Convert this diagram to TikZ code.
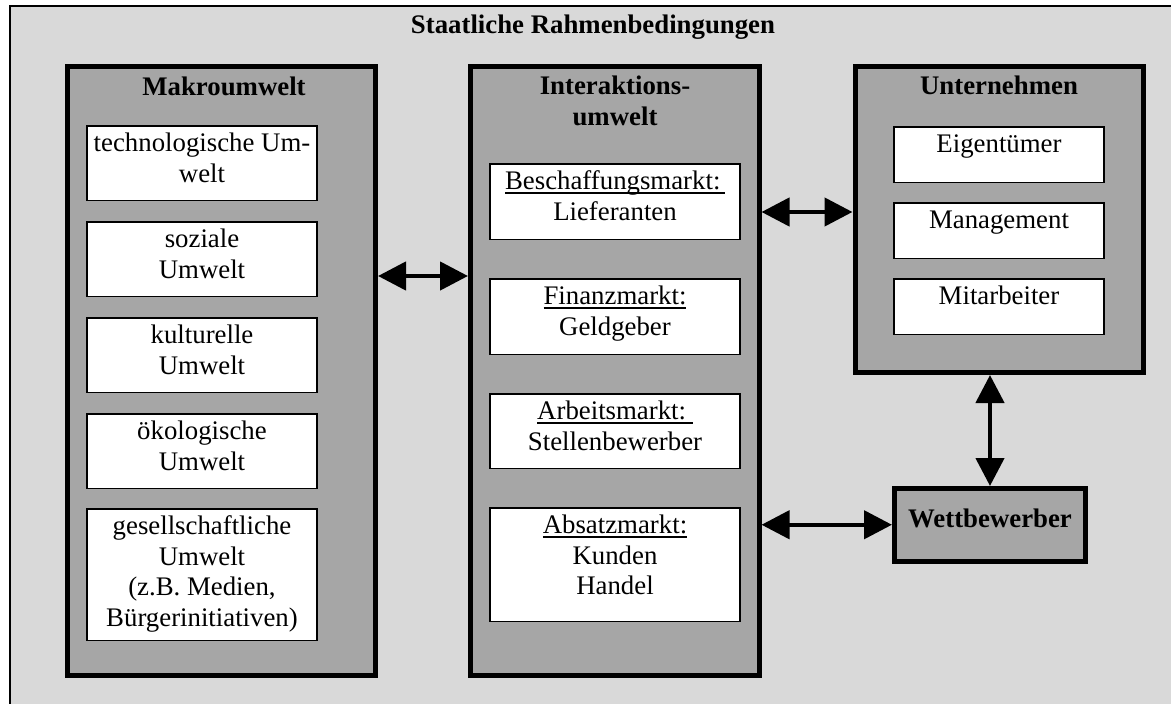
\documentclass[tikz,border=0pt]{standalone}
\usepackage{fontspec}
\setmainfont{Liberation Serif}
\usetikzlibrary{arrows.meta}

\definecolor{pagegray}{RGB}{217,217,217}
\definecolor{boxgray}{RGB}{166,166,166}

% underlined market label with a heavier rule
\newcommand\ulword[1]{\setbox0\hbox{#1}\rlap{\rule[-4pt]{\wd0}{2pt}}\box0}
% top-aligned centred text inside a box of given width and height
\newcommand\boxtext[3]{\parbox[c][#2][t]{#1}{\centering\rule{0pt}{26pt}#3}}

\tikzset{
  txt/.style={font=\fontsize{26.8pt}{30.5pt}\selectfont},
  head/.style={font=\fontsize{26.8pt}{31pt}\selectfont\bfseries, inner sep=0pt},
  bigbox/.style={draw=black, line width=5pt, fill=boxgray, inner sep=0pt},
  itembox/.style={draw=black, line width=1.5pt, fill=white, inner sep=0pt, txt},
  biarrow/.style={line width=4.5pt,
    {Triangle[length=28pt,width=28pt]}-{Triangle[length=28pt,width=28pt]}},
}

\begin{document}
\begin{tikzpicture}[x=1pt,y=-1pt]
\useasboundingbox (0,0) rectangle (1171,704);
\fill[white] (0,0) rectangle (1171,704);
\begin{scope}
  \clip (0,0) rectangle (1171,704);
  \draw[line width=2pt, fill=pagegray] (10,6) rectangle (1200,730);
\end{scope}
\node[head, anchor=base] (staat) at (593,34) {Staatliche Rahmenbedingungen};

% three environment layers
\node[bigbox, minimum width=308pt, minimum height=609pt] (makro) at (221.5,371) {};
\node[bigbox, minimum width=288.5pt, minimum height=609pt] (inter) at (614.75,371) {};
\node[bigbox, minimum width=288.5pt, minimum height=306pt] (unt) at (999.25,219.5) {};
\node[bigbox, minimum width=191pt, minimum height=72.5pt] (wett) at (990,524.75) {};

\node[head, anchor=base] (makrot) at (224,95) {Makroumwelt};
\node[head, anchor=north] (intert) at (615,66)
  {\parbox[t]{250pt}{\centering\rule{0pt}{28pt}Interaktions-\\umwelt}};
\node[head, anchor=base] (untt) at (999,94) {Unternehmen};
\node[head, anchor=base] (wettt) at (990,527) {Wettbewerber};

% Makroumwelt
\node[itembox] (tech) at (202,163)
  {\boxtext{230pt}{74.5pt}{technologische Um-\\welt}};
\node[itembox] (sozial) at (202,259)
  {\boxtext{230pt}{74.5pt}{soziale\\Umwelt}};
\node[itembox] (kultur) at (202,355)
  {\boxtext{230pt}{74.5pt}{kulturelle\\Umwelt}};
\node[itembox] (oeko) at (202,451)
  {\boxtext{230pt}{74.5pt}{ökologische\\Umwelt}};
\node[itembox] (gesell) at (202,574.5)
  {\boxtext{230pt}{131.5pt}{gesellschaftliche\\Umwelt\\(z.B. Medien,\\Bürgerinitiativen)}};

% Interaktionsumwelt
\node[itembox] (beschaff) at (615,201.5)
  {\boxtext{250pt}{75.5pt}{\ulword{Beschaffungsmarkt:\,}\\Lieferanten}};
\node[itembox] (finanz) at (615,316.5)
  {\boxtext{250pt}{75.5pt}{\ulword{Finanzmarkt:}\\Geldgeber}};
\node[itembox] (arbeit) at (615,431)
  {\boxtext{250pt}{74.5pt}{\ulword{Arbeitsmarkt:\ }\\Stellenbewerber}};
\node[itembox] (absatz) at (615,564.5)
  {\boxtext{250pt}{113.5pt}{\ulword{Absatzmarkt:}\\Kunden\\Handel}};

% Unternehmen
\node[itembox] (eigen) at (999,154.5)
  {\boxtext{210pt}{55.5pt}{Eigentümer}};
\node[itembox] (manage) at (999,230.5)
  {\boxtext{210pt}{55.5pt}{Management}};
\node[itembox] (mitarb) at (999,306.5)
  {\boxtext{210pt}{55.5pt}{Mitarbeiter}};

% relations
\draw[biarrow] ([yshift=95pt]makro.east) -- ([yshift=95pt]inter.west);
\draw[biarrow] ([yshift=159pt]inter.east) -- ([yshift=7.5pt]unt.west);
\draw[biarrow] (inter.east |- wett.west) -- (wett.west);
\draw[biarrow] (wett.north |- unt.south) -- (wett.north);
\end{tikzpicture}
\end{document}
